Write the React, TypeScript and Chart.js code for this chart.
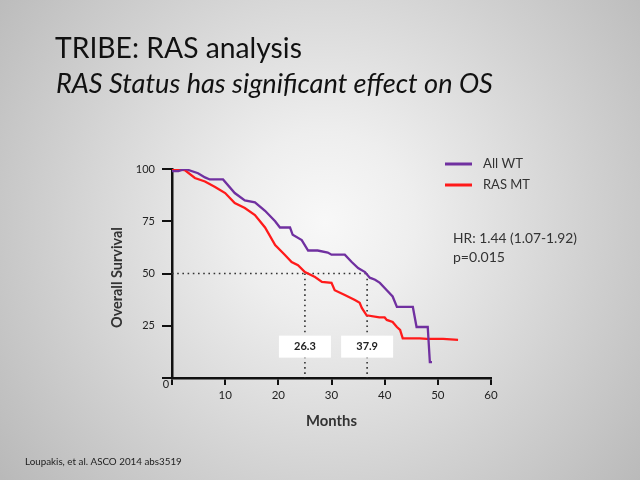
import React, { useEffect, useRef } from 'react';
import { Chart, registerables } from 'chart.js';

Chart.register(...registerables);

// ---- Data ----
const seriesNames = ['All WT', 'RAS MT'];
const seriesColors = ['#7030A0', '#FF1A1A'];

const wtMonths = [0, 1.2, 2.5, 4.9, 6.2, 7.1, 9.6, 11.8, 13.7, 15.6, 17.5, 19.4, 20.3, 22.2, 22.7, 24.4, 25.6, 27.4, 29.3, 30, 32.5, 33.8, 35, 36.3, 37.2, 38.2, 39.1, 40.4, 41.5, 42.3, 45.3, 46, 48.1, 48.5, 48.9];
const wtSurvival = [99, 99, 100, 98, 96, 95, 95, 88.5, 85, 84, 80, 75, 72, 72, 68.5, 66, 61, 61, 60, 59, 59, 55.5, 52.6, 50.7, 48, 47, 45.5, 42, 39, 34, 34, 24.4, 24.4, 7.6, 7.6];

const mtMonths = [0, 2.4, 4.3, 6.2, 8.1, 10, 11.8, 13.7, 15.6, 17.5, 19.4, 21.2, 22.5, 23.7, 25, 26.9, 28.2, 30, 30.6, 32.5, 34.4, 35.3, 35.7, 36.6, 39, 40, 40.4, 41.5, 42.3, 42.9, 43.4, 44.4, 46.6, 47.9, 51, 53.8];
const mtSurvival = [100, 99.5, 95.7, 94, 91.4, 88.5, 83.7, 81.3, 78, 72, 63.6, 59, 55.5, 54, 50.7, 48.3, 46, 45.5, 42, 39.7, 37.3, 36, 33.5, 30, 29, 29, 27.8, 26.8, 24.4, 23, 19, 19, 19, 18.7, 18.7, 18.2];

const medianLevel = 50;
const medianMonths = [25, 36.7];
const medianLabels = ['26.3', '37.9'];
const medianBoxLevel = 15;

const xTickStep = 10;
const yTickStep = 25;

const titleText = 'TRIBE: RAS analysis';
const subtitleText = 'RAS Status has significant effect on OS';
const hrLines = ['HR: 1.44 (1.07-1.92)', 'p=0.015'];
const footerText = 'Loupakis, et al. ASCO 2014 abs3519';
const xTitle = 'Months';
const yTitle = 'Overall Survival';

const FONT = 'Lato, "Open Sans", sans-serif';

function toPoints(xs: number[], ys: number[]) {
  return xs.map((x, i) => ({ x, y: ys[i] }));
}

function setFitted(ctx: CanvasRenderingContext2D, text: string, style: string, target: number) {
  ctx.font = `${style} 20px ${FONT}`;
  const w = ctx.measureText(text).width;
  const size = (20 * target) / w;
  ctx.font = `${style} ${size}px ${FONT}`;
  return size;
}

function drawFitted(
  ctx: CanvasRenderingContext2D,
  text: string,
  x: number,
  y: number,
  style: string,
  target: number,
  color: string,
  align: CanvasTextAlign = 'left',
  baseline: CanvasTextBaseline = 'middle'
) {
  ctx.save();
  setFitted(ctx, text, style, target);
  ctx.fillStyle = color;
  ctx.textAlign = align;
  ctx.textBaseline = baseline;
  ctx.fillText(text, x, y);
  ctx.restore();
}

const backgroundPlugin = {
  id: 'bgGradient',
  beforeDraw(chart: any) {
    const { ctx, width, height } = chart;
    ctx.save();
    const g = ctx.createRadialGradient(325, 222, 0, 325, 222, 450);
    g.addColorStop(0, '#f8f8f8');
    g.addColorStop(0.2, '#eeeeee');
    g.addColorStop(0.6, '#d0d0d0');
    g.addColorStop(1, '#b3b3b3');
    ctx.fillStyle = g;
    ctx.fillRect(0, 0, width, height);
    ctx.restore();
  },
};

const decorPlugin = {
  id: 'decor',
  afterDatasetsDraw(chart: any) {
    const { ctx } = chart;
    const xs = chart.scales.x;
    const ys = chart.scales.y;
    medianMonths.forEach((m, i) => {
      const cx = xs.getPixelForValue(m);
      const cy = ys.getPixelForValue(medianBoxLevel);
      ctx.save();
      ctx.fillStyle = '#ffffff';
      ctx.fillRect(cx - 26, cy - 11, 52, 22);
      ctx.fillStyle = '#222222';
      ctx.font = `bold 11px ${FONT}`;
      ctx.textAlign = 'center';
      ctx.textBaseline = 'middle';
      ctx.fillText(medianLabels[i], cx, cy);
      ctx.restore();
    });
  },
  afterDraw(chart: any) {
    const { ctx } = chart;
    drawFitted(ctx, titleText, 55, 58, 'normal', 247, '#111111', 'left', 'alphabetic');
    drawFitted(ctx, subtitleText, 56, 93, 'italic', 437, '#111111', 'left', 'alphabetic');
    const legendY = [164, 185];
    const legendW = [40, 47];
    seriesNames.forEach((name, i) => {
      ctx.save();
      ctx.strokeStyle = seriesColors[i];
      ctx.lineWidth = 3;
      ctx.beginPath();
      ctx.moveTo(445, legendY[i]);
      ctx.lineTo(472, legendY[i]);
      ctx.stroke();
      ctx.restore();
      drawFitted(ctx, name, 483, legendY[i], 'normal', legendW[i], '#333333');
    });
    drawFitted(ctx, hrLines[0], 453, 239, 'normal', 124, '#333333');
    drawFitted(ctx, hrLines[1], 453, 257, 'normal', 52, '#333333');
    drawFitted(ctx, footerText, 25, 462, 'normal', 157, '#222222');
    drawFitted(ctx, xTitle, 331.5, 421, 'bold', 51, '#333333', 'center');
    ctx.save();
    ctx.translate(117.5, 277.5);
    ctx.rotate(-Math.PI / 2);
    drawFitted(ctx, yTitle, 0, 0, 'bold', 101, '#333333', 'center');
    ctx.restore();
    ctx.save();
    ctx.fillStyle = '#222222';
    ctx.font = `11px ${FONT}`;
    ctx.textAlign = 'center';
    ctx.textBaseline = 'middle';
    ctx.fillText('0', 166, 384);
    ctx.restore();
  },
};

export default function App() {
  const canvasRef = useRef<HTMLCanvasElement | null>(null);

  useEffect(() => {
    const canvas = canvasRef.current;
    if (!canvas) return;
    const dotted = {
      borderColor: '#333333',
      borderWidth: 1.6,
      borderDash: [1.6, 3.6],
      pointRadius: 0,
      fill: false,
      tension: 0,
    };
    const chart = new Chart(canvas, {
      type: 'line',
      data: {
        datasets: [
          {
            label: seriesNames[0],
            data: toPoints(wtMonths, wtSurvival),
            borderColor: seriesColors[0],
            borderWidth: 2.3,
            pointRadius: 0,
            fill: false,
            tension: 0,
          },
          {
            label: seriesNames[1],
            data: toPoints(mtMonths, mtSurvival),
            borderColor: seriesColors[1],
            borderWidth: 2.3,
            pointRadius: 0,
            fill: false,
            tension: 0,
          },
          {
            label: 'median-h',
            data: [
              { x: 0, y: medianLevel },
              { x: medianMonths[1], y: medianLevel },
            ],
            ...dotted,
          },
          ...medianMonths.map((m) => ({
            label: 'median-v',
            data: [
              { x: m, y: medianLevel },
              { x: m, y: 0 },
            ],
            ...dotted,
          })),
        ] as any,
      },
      options: {
        responsive: false,
        animation: false,
        events: [],
        layout: { padding: { left: 100, top: 169, right: 149, bottom: 72 } },
        plugins: {
          legend: { display: false },
          tooltip: { enabled: false },
          title: { display: false },
        },
        scales: {
          x: {
            type: 'linear',
            min: 0,
            max: 60,
            afterFit: (s: any) => {
              s.height = 30;
            },
            ticks: {
              stepSize: xTickStep,
              color: '#222222',
              padding: 3,
              font: { family: FONT, size: 11.5 },
              callback: (v: any) => (v === 0 ? '' : String(v)),
            },
            grid: {
              display: true,
              drawOnChartArea: false,
              drawTicks: true,
              tickLength: 7,
              lineWidth: 2,
              color: '#111111',
            },
            border: { display: true, color: '#111111', width: 2.5 },
          },
          y: {
            type: 'linear',
            min: 0,
            max: 100,
            afterFit: (s: any) => {
              s.width = 72;
            },
            ticks: {
              stepSize: yTickStep,
              color: '#222222',
              padding: 7,
              font: { family: FONT, size: 11 },
              callback: (v: any) => (v === 0 ? '' : String(v)),
            },
            grid: {
              display: true,
              drawOnChartArea: false,
              drawTicks: true,
              tickLength: 10,
              lineWidth: 2,
              color: '#111111',
            },
            border: { display: true, color: '#111111', width: 2.5 },
          },
        },
      } as any,
      plugins: [backgroundPlugin, decorPlugin],
    });
    return () => chart.destroy();
  }, []);

  return (
    <div style={{ position: 'fixed', left: 0, top: 0, width: 640, height: 480 }}>
      <canvas ref={canvasRef} width={640} height={480} style={{ display: 'block', width: 640, height: 480 }} />
    </div>
  );
}
